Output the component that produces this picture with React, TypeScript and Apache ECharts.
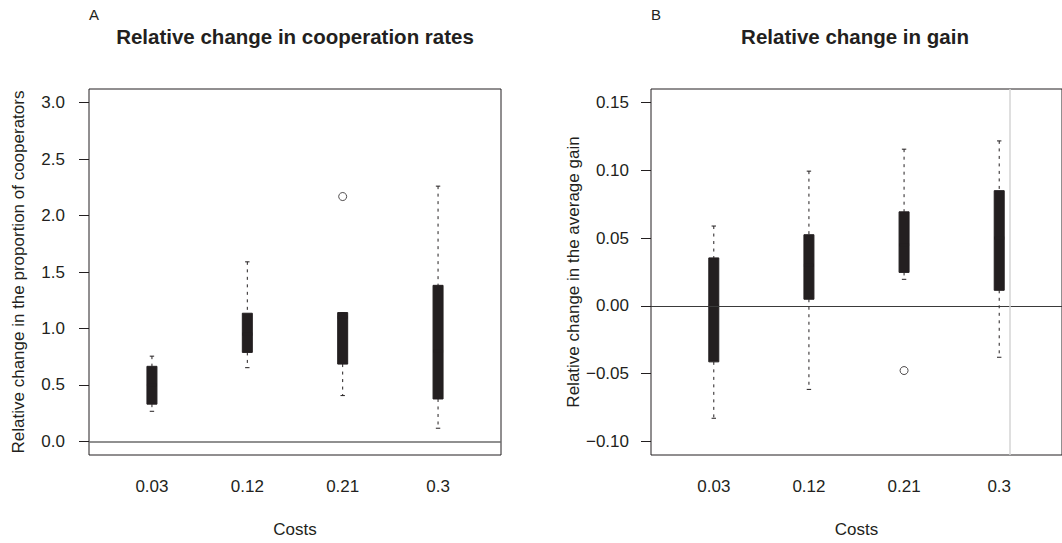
import React, { useEffect, useRef } from "react";
import * as echarts from "echarts";

const costs = ["0.03", "0.12", "0.21", "0.3"];
// each box: [low whisker, q1, median, q3, high whisker]
const coopBoxes = [
  [0.267, 0.33, 0.5, 0.665, 0.755],
  [0.653, 0.788, 0.95, 1.135, 1.59],
  [0.406, 0.685, 1.1, 1.141, 1.141],
  [0.117, 0.376, 0.8, 1.382, 2.26],
];
const coopOutliers = [[2, 2.168]];
const gainBoxes = [
  [-0.0829, -0.0413, 0.0, 0.0354, 0.0589],
  [-0.0616, 0.0049, 0.03, 0.0525, 0.0994],
  [0.0196, 0.0247, 0.045, 0.0694, 0.1156],
  [-0.0379, 0.0115, 0.05, 0.085, 0.1217],
];
const gainOutliers = [[2, -0.0477]];
const coopTicks = [0, 0.5, 1, 1.5, 2, 2.5, 3];
const gainTicks = [-0.1, -0.05, 0, 0.05, 0.1, 0.15];
const refLineX = 3.108;

const INK = "#231f20";
const FONT = "Liberation Sans";

function renderBox(params: any, api: any) {
  const x = api.value(0);
  const low = api.coord([x, api.value(1)]);
  const q1 = api.coord([x, api.value(2)]);
  const med = api.coord([x, api.value(3)]);
  const q3 = api.coord([x, api.value(4)]);
  const high = api.coord([x, api.value(5)]);
  const cx = q1[0];
  const bw = 10;
  const cap = 2.2;
  const dash = { stroke: INK, lineWidth: 1, lineDash: [3, 4.5] };
  const solid = { stroke: INK, lineWidth: 1 };
  return {
    type: "group",
    children: [
      { type: "line", shape: { x1: cx, y1: high[1], x2: cx, y2: q3[1] }, style: dash },
      { type: "line", shape: { x1: cx, y1: q1[1], x2: cx, y2: low[1] }, style: dash },
      { type: "line", shape: { x1: cx - cap, y1: high[1], x2: cx + cap, y2: high[1] }, style: solid },
      { type: "line", shape: { x1: cx - cap, y1: low[1], x2: cx + cap, y2: low[1] }, style: solid },
      {
        type: "rect",
        shape: { x: cx - bw / 2, y: q3[1], width: bw, height: q1[1] - q3[1] },
        style: { fill: INK, stroke: INK, lineWidth: 1 },
      },
      { type: "line", shape: { x1: cx - bw / 2, y1: med[1], x2: cx + bw / 2, y2: med[1] }, style: { stroke: INK, lineWidth: 3 } },
    ],
  };
}

const textStyle = { fontFamily: FONT, fontSize: 17, color: INK };

function xAxis(gridIndex: number) {
  return {
    type: "value",
    gridIndex,
    min: -0.66,
    max: 3.66,
    position: "bottom",
    axisLine: { show: false, onZero: false },
    axisTick: { show: false },
    splitLine: { show: false },
    axisLabel: {
      customValues: [0, 1, 2, 3],
      formatter: (v: number) => costs[Math.round(v)],
      margin: 23,
      ...textStyle,
    },
    name: "Costs",
    nameLocation: "middle",
    nameGap: 66,
    nameTextStyle: { ...textStyle },
  };
}

export default function App() {
  const ref = useRef<HTMLDivElement>(null);
  useEffect(() => {
    if (!ref.current) return;
    const chart = echarts.init(ref.current, undefined, { renderer: "svg" });
    const gridBase = { top: 89, height: 368, width: 412, show: true, borderColor: INK, borderWidth: 1, backgroundColor: "transparent" };
    chart.setOption({
      animation: false,
      backgroundColor: "#ffffff",
      grid: [
        { ...gridBase, left: 89 },
        { ...gridBase, left: 651 },
      ],
      xAxis: [xAxis(0), xAxis(1)],
      yAxis: [
        {
          type: "value",
          gridIndex: 0,
          min: -0.12,
          max: 3.12,
          position: "left",
          axisLine: { show: false, onZero: false },
          splitLine: { show: false },
          axisTick: { show: true, customValues: coopTicks, length: 10, lineStyle: { color: INK } },
          axisLabel: { customValues: coopTicks, formatter: (v: number) => v.toFixed(1), margin: 24, ...textStyle },
          name: "Relative change in the proportion of cooperators",
          nameLocation: "middle",
          nameGap: 62,
          nameTextStyle: { ...textStyle },
        },
        {
          type: "value",
          gridIndex: 1,
          min: -0.11,
          max: 0.16,
          position: "left",
          axisLine: { show: false, onZero: false },
          splitLine: { show: false },
          axisTick: { show: true, customValues: gainTicks, length: 10, lineStyle: { color: INK } },
          axisLabel: {
            customValues: gainTicks,
            formatter: (v: number) => (v < -1e-9 ? "\u2212" : "") + Math.abs(v).toFixed(2),
            margin: 22,
            ...textStyle,
          },
          name: "Relative change in the average gain",
          nameLocation: "middle",
          nameGap: 62,
          nameTextStyle: { ...textStyle },
        },
      ],
      graphic: [
        { type: "text", x: 89, y: 14, style: { text: "A", fontFamily: FONT, fontSize: 15, fill: INK, verticalAlign: "middle", align: "left" } },
        { type: "text", x: 651, y: 14, style: { text: "B", fontFamily: FONT, fontSize: 15, fill: INK, verticalAlign: "middle", align: "left" } },
        {
          type: "text", x: 295, y: 36,
          style: { text: "Relative change in cooperation rates", fontFamily: FONT, fontSize: 20.5, fontWeight: "bold", fill: INK, verticalAlign: "middle", align: "center" },
        },
        {
          type: "text", x: 855, y: 36,
          style: { text: "Relative change in gain", fontFamily: FONT, fontSize: 20.5, fontWeight: "bold", fill: INK, verticalAlign: "middle", align: "center" },
        },
      ],
      series: [
        {
          type: "custom",
          xAxisIndex: 0,
          yAxisIndex: 0,
          renderItem: renderBox,
          encode: { x: 0, y: [1, 2, 3, 4, 5] },
          data: coopBoxes.map((b, i) => [i, ...b]),
          z: 3,
          markLine: {
            silent: true,
            symbol: "none",
            label: { show: false },
            lineStyle: { color: "#6b6b6b", width: 1.5, type: "solid" },
            data: [{ yAxis: 0 }],
          },
        },
        {
          type: "scatter",
          xAxisIndex: 0,
          yAxisIndex: 0,
          symbol: "circle",
          symbolSize: 8,
          itemStyle: { color: "#ffffff", borderColor: INK, borderWidth: 1 },
          data: coopOutliers,
          z: 4,
        },
        {
          type: "custom",
          xAxisIndex: 1,
          yAxisIndex: 1,
          renderItem: renderBox,
          encode: { x: 0, y: [1, 2, 3, 4, 5] },
          data: gainBoxes.map((b, i) => [i, ...b]),
          z: 3,
          markLine: {
            silent: true,
            symbol: "none",
            label: { show: false },
            data: [
              { yAxis: 0, lineStyle: { color: "#3a3a3a", width: 1.2, type: "solid" } },
              { xAxis: refLineX, lineStyle: { color: "#d4d4d4", width: 1.5, type: "solid" } },
            ],
          },
        },
        {
          type: "scatter",
          xAxisIndex: 1,
          yAxisIndex: 1,
          symbol: "circle",
          symbolSize: 8,
          itemStyle: { color: "#ffffff", borderColor: INK, borderWidth: 1 },
          data: gainOutliers,
          z: 4,
        },
      ],
    });
    return () => chart.dispose();
  }, []);
  return <div ref={ref} style={{ position: "absolute", left: 0, top: 0, width: 1062, height: 543 }} />;
}
